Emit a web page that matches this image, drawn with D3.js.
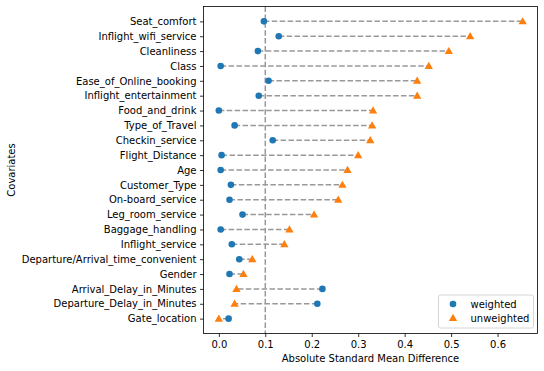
<!DOCTYPE html>
<meta charset="utf-8">
<style>
  body { margin: 0; background: #fff; }
  svg text { font-family: "DejaVu Sans", sans-serif; font-size: 10px; fill: #000; }
  .axis path, .axis line { stroke: #000; stroke-width: 0.8px; }
</style>
<svg width="544" height="371"></svg>
<script src="https://d3js.org/d3.v7.min.js"></script>
<script>

// covariates, bottom to top
var covariates = ["Gate_location", "Departure_Delay_in_Minutes", "Arrival_Delay_in_Minutes", "Gender",
  "Departure/Arrival_time_convenient", "Inflight_service", "Baggage_handling", "Leg_room_service",
  "On-board_service", "Customer_Type", "Age", "Flight_Distance", "Checkin_service", "Type_of_Travel",
  "Food_and_drink", "Inflight_entertainment", "Ease_of_Online_booking", "Class", "Cleanliness",
  "Inflight_wifi_service", "Seat_comfort"];

var weighted = [0.021, 0.212, 0.223, 0.023, 0.044, 0.028, 0.004, 0.051, 0.023, 0.026, 0.004,
  0.006, 0.116, 0.034, 0.000, 0.086, 0.107, 0.004, 0.084, 0.129, 0.097];

var unweighted = [0.000, 0.034, 0.038, 0.053, 0.072, 0.141, 0.152, 0.205, 0.257, 0.266, 0.277,
  0.300, 0.326, 0.330, 0.332, 0.427, 0.427, 0.452, 0.495, 0.541, 0.654];

var xTicks = [0.0, 0.1, 0.2, 0.3, 0.4, 0.5, 0.6];
var threshold = 0.1;

var svg = d3.select("svg"),
    margin = {top: 6.5, right: 6.5, bottom: 37.5, left: 203.5},
    width = +svg.attr("width") - margin.left - margin.right,
    height = +svg.attr("height") - margin.top - margin.bottom;

var x = d3.scaleLinear().domain([-0.033, 0.686]).range([0, width]);
var y = d3.scaleLinear().domain([-1, covariates.length]).range([height, 0]);

var g = svg.append("g")
    .attr("transform", "translate(" + margin.left + "," + margin.top + ")");

var dash = "5.5,2.4";

// threshold line
g.append("line")
    .attr("x1", x(threshold)).attr("x2", x(threshold))
    .attr("y1", 0).attr("y2", height)
    .style("stroke", "#999").style("stroke-width", 1.5)
    .style("stroke-dasharray", dash);

// connecting lines
g.selectAll(".conn")
  .data(covariates)
  .enter().append("line")
    .attr("class", "conn")
    .attr("x1", function(d, i) { return x(weighted[i]); })
    .attr("x2", function(d, i) { return x(unweighted[i]); })
    .attr("y1", function(d, i) { return y(i); })
    .attr("y2", function(d, i) { return y(i); })
    .style("stroke", "#999").style("stroke-width", 1.5)
    .style("stroke-dasharray", dash);

var tri = d3.symbol().type(d3.symbolTriangle).size(30);

g.selectAll(".w")
  .data(weighted)
  .enter().append("circle")
    .attr("class", "w")
    .attr("cx", function(d) { return x(d); })
    .attr("cy", function(d, i) { return y(i); })
    .attr("r", 3.3)
    .style("fill", "#1f77b4");

g.selectAll(".u")
  .data(unweighted)
  .enter().append("path")
    .attr("class", "u")
    .attr("d", tri)
    .attr("transform", function(d, i) { return "translate(" + x(d) + "," + (y(i) + 0.6) + ")"; })
    .style("fill", "#ff7f0e");

// axes
var xAxis = d3.axisBottom(x).tickValues(xTicks).tickFormat(d3.format(".1f")).tickSize(3.5).tickPadding(3.5);
var yAxis = d3.axisLeft(y).tickValues(d3.range(covariates.length))
    .tickFormat(function(i) { return covariates[i]; }).tickSize(3.5).tickPadding(3.5);

g.append("g").attr("class", "axis")
    .attr("transform", "translate(0," + height + ")")
    .call(xAxis)
    .call(function(s) { s.select(".domain").remove(); });

g.append("g").attr("class", "axis")
    .call(yAxis)
    .call(function(s) { s.select(".domain").remove(); });

// frame
g.append("rect")
    .attr("width", width).attr("height", height)
    .style("fill", "none").style("stroke", "#000").style("stroke-width", 0.8);

// axis labels
svg.append("text")
    .attr("x", margin.left + width / 2)
    .attr("y", 362)
    .attr("text-anchor", "middle")
    .text("Absolute Standard Mean Difference");

svg.append("text")
    .attr("transform", "translate(15," + (margin.top + height / 2) + ") rotate(-90)")
    .attr("text-anchor", "middle")
    .text("Covariates");

// legend
var legend = svg.append("g").attr("transform", "translate(438.5,295)");
legend.append("rect")
    .attr("width", 95).attr("height", 33).attr("rx", 2)
    .style("fill", "#fff").style("fill-opacity", 0.8)
    .style("stroke", "#ccc").style("stroke-width", 0.8);
legend.append("circle").attr("cx", 14.5).attr("cy", 9).attr("r", 3.3).style("fill", "#1f77b4");
legend.append("path").attr("d", tri).attr("transform", "translate(14.5,23.5)").style("fill", "#ff7f0e");
legend.append("text").attr("x", 32).attr("y", 12.5).text("weighted");
legend.append("text").attr("x", 32).attr("y", 26.5).text("unweighted");

</script>
